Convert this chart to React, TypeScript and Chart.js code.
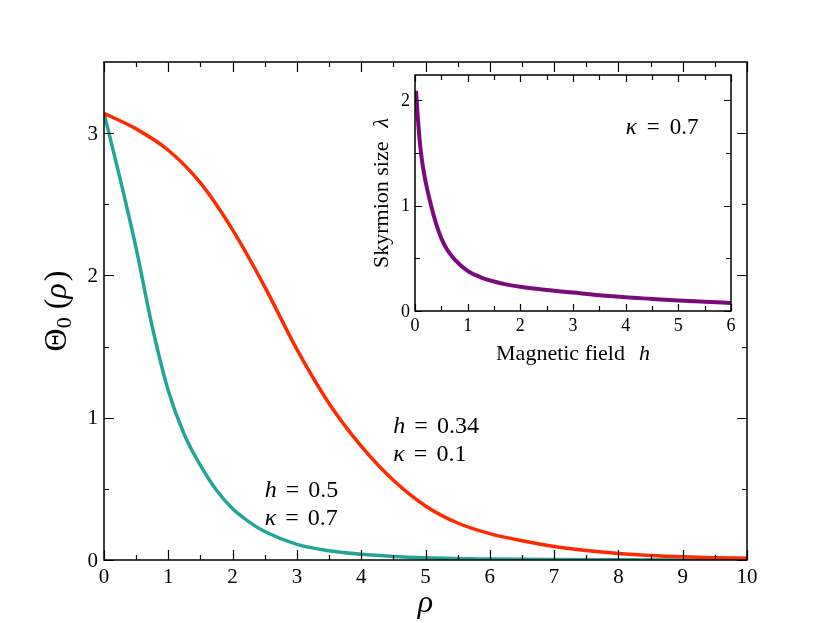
import React, { useEffect, useRef } from "react";
import { Chart, registerables } from "chart.js";

Chart.register(...registerables);

const FAMILY = '"Liberation Serif"';

// Main panel: Theta_0(rho) profiles
const rhoRed = [0, 0.5, 1, 1.5, 2, 2.5, 3, 3.5, 4, 4.5, 5, 5.5, 6, 6.5, 7, 7.5, 8, 8.5, 9, 9.5, 10];
const thetaRed = [3.14, 3.03, 2.88, 2.65, 2.32, 1.92, 1.48, 1.1, 0.8, 0.56, 0.38, 0.26, 0.185, 0.135, 0.095, 0.066, 0.045, 0.031, 0.022, 0.016, 0.012];

const rhoTeal = [0, 0.25, 0.5, 0.75, 1, 1.25, 1.5, 1.75, 2, 2.25, 2.5, 3, 3.5, 4, 4.5, 5, 6, 7, 8, 9, 10];
const thetaTeal = [3.14, 2.68, 2.19, 1.64, 1.19, 0.88, 0.665, 0.49, 0.36, 0.27, 0.2, 0.11, 0.065, 0.04, 0.025, 0.016, 0.007, 0.003, 0.0015, 0.0008, 0.0004];

const mainXMajor = [0, 1, 2, 3, 4, 5, 6, 7, 8, 9, 10];
const mainXMinor = [0.5, 1.5, 2.5, 3.5, 4.5, 5.5, 6.5, 7.5, 8.5, 9.5];
const mainYMajor = [0, 1, 2, 3];
const mainYMinor = [0.5, 1.5, 2.5];

// Inset: skyrmion size vs magnetic field
const fieldH = [0.02, 0.05, 0.1, 0.15, 0.2, 0.3, 0.4, 0.5, 0.6, 0.75, 1, 1.25, 1.5, 1.75, 2, 2.5, 3, 3.5, 4, 4.5, 5, 5.5, 6];
const sizeLambda = [2.09, 1.86, 1.56, 1.37, 1.23, 1.01, 0.83, 0.69, 0.59, 0.49, 0.38, 0.32, 0.28, 0.25, 0.23, 0.2, 0.175, 0.15, 0.13, 0.115, 0.1, 0.088, 0.077];

const insetXMajor = [0, 1, 2, 3, 4, 5, 6];
const insetXMinor = [0.5, 1.5, 2.5, 3.5, 4.5, 5.5];
const insetYMajor = [0, 1, 2];
const insetYMinor = [0.5, 1.5];

type Part = { t: string; italic?: boolean; size?: number; dy?: number; gap?: number };

function drawRich(ctx: CanvasRenderingContext2D, parts: Part[], x: number, y: number, size: number, align: "left" | "center") {
  const fontOf = (p: Part) => `${p.italic ? "italic " : ""}${p.size ?? size}px ${FAMILY}`;
  let w = 0;
  parts.forEach((p) => {
    ctx.font = fontOf(p);
    w += ctx.measureText(p.t).width + (p.gap ?? 0);
  });
  let cx = align === "center" ? x - w / 2 : x;
  ctx.textAlign = "left";
  ctx.textBaseline = "alphabetic";
  parts.forEach((p) => {
    ctx.font = fontOf(p);
    ctx.fillText(p.t, cx, y + (p.dy ?? 0));
    cx += ctx.measureText(p.t).width + (p.gap ?? 0);
  });
}

type FrameCfg = {
  xMajor: number[];
  xMinor: number[];
  yMajor: number[];
  yMinor: number[];
  majorLen: number;
  minorLen: number;
  frameWidth: number;
  tickFont: number;
  xLabelDy: number;
  yLabelDx: number;
  extra: (ctx: CanvasRenderingContext2D, chart: any) => void;
};

function makeFramePlugin(cfg: FrameCfg) {
  return {
    id: "frameTicks",
    afterDatasetsDraw(chart: any) {
      const { ctx, chartArea: a, scales } = chart;
      const xs = scales.x;
      const ys = scales.y;
      ctx.save();
      ctx.strokeStyle = "#000";
      ctx.fillStyle = "#000";
      ctx.lineWidth = cfg.frameWidth;
      ctx.strokeRect(a.left, a.top, a.right - a.left, a.bottom - a.top);
      ctx.lineWidth = 1.2;
      ctx.beginPath();
      const xt = (v: number, len: number) => {
        const px = Math.round(xs.getPixelForValue(v)) + 0.5;
        ctx.moveTo(px, a.bottom);
        ctx.lineTo(px, a.bottom - len);
        ctx.moveTo(px, a.top);
        ctx.lineTo(px, a.top + len);
      };
      const yt = (v: number, len: number) => {
        const py = Math.round(ys.getPixelForValue(v)) + 0.5;
        ctx.moveTo(a.left, py);
        ctx.lineTo(a.left + len, py);
        ctx.moveTo(a.right, py);
        ctx.lineTo(a.right - len, py);
      };
      cfg.xMajor.forEach((v) => xt(v, cfg.majorLen));
      cfg.xMinor.forEach((v) => xt(v, cfg.minorLen));
      cfg.yMajor.forEach((v) => yt(v, cfg.majorLen));
      cfg.yMinor.forEach((v) => yt(v, cfg.minorLen));
      ctx.stroke();

      ctx.font = `${cfg.tickFont}px ${FAMILY}`;
      ctx.textBaseline = "alphabetic";
      ctx.textAlign = "center";
      cfg.xMajor.forEach((v) => {
        ctx.fillText(String(v), xs.getPixelForValue(v), a.bottom + cfg.xLabelDy);
      });
      ctx.textAlign = "right";
      cfg.yMajor.forEach((v) => {
        ctx.fillText(String(v), a.left - cfg.yLabelDx, ys.getPixelForValue(v) + cfg.tickFont * 0.32);
      });
      cfg.extra(ctx, chart);
      ctx.restore();
    },
  };
}

function hiddenScale(min: number, max: number) {
  return {
    type: "linear" as const,
    min,
    max,
    display: true,
    ticks: { display: false },
    grid: { display: false, drawTicks: false },
    border: { display: false },
    title: { display: false },
  };
}

export default function App() {
  const mainRef = useRef<HTMLCanvasElement>(null);
  const insetRef = useRef<HTMLCanvasElement>(null);

  useEffect(() => {
    if (!mainRef.current || !insetRef.current) return;

    const mainPlugin = makeFramePlugin({
      xMajor: mainXMajor,
      xMinor: mainXMinor,
      yMajor: mainYMajor,
      yMinor: mainYMinor,
      majorLen: 10,
      minorLen: 5,
      frameWidth: 1.5,
      tickFont: 21,
      xLabelDy: 23,
      yLabelDx: 6,
      extra: (ctx, chart) => {
        const a = chart.chartArea;
        ctx.save();
        ctx.translate(66, (a.top + a.bottom) / 2);
        ctx.rotate(-Math.PI / 2);
        drawRich(
          ctx,
          [
            { t: "Θ", size: 32 },
            { t: "0", size: 22, dy: 5, gap: 8 },
            { t: "(", size: 32 },
            { t: "ρ", size: 32, italic: true, gap: 2 },
            { t: ")", size: 32 },
          ],
          0,
          0,
          32,
          "center"
        );
        ctx.restore();
        drawRich(ctx, [{ t: "ρ", italic: true }], (a.left + a.right) / 2, 612, 32, "center");
        const xs = chart.scales.x;
        const ys = chart.scales.y;
        const ann = (lines: Part[][], vx: number, vy: number) => {
          const x = xs.getPixelForValue(vx);
          const y = ys.getPixelForValue(vy);
          lines.forEach((parts, i) => drawRich(ctx, parts, x, y + i * 28, 24, "left"));
        };
        ann(
          [
            [{ t: "h", italic: true, gap: 9 }, { t: "=", gap: 9 }, { t: "0.34" }],
            [{ t: "κ", italic: true, gap: 9 }, { t: "=", gap: 9 }, { t: "0.1" }],
          ],
          4.5,
          0.895
        );
        ann(
          [
            [{ t: "h", italic: true, gap: 9 }, { t: "=", gap: 9 }, { t: "0.5" }],
            [{ t: "κ", italic: true, gap: 9 }, { t: "=", gap: 9 }, { t: "0.7" }],
          ],
          2.5,
          0.44
        );
      },
    });

    const insetPlugin = makeFramePlugin({
      xMajor: insetXMajor,
      xMinor: insetXMinor,
      yMajor: insetYMajor,
      yMinor: insetYMinor,
      majorLen: 7,
      minorLen: 5,
      frameWidth: 1.5,
      tickFont: 18,
      xLabelDy: 20,
      yLabelDx: 5,
      extra: (ctx, chart) => {
        const a = chart.chartArea;
        ctx.save();
        ctx.translate(388, (a.top + a.bottom) / 2);
        ctx.rotate(-Math.PI / 2);
        drawRich(ctx, [{ t: "Skyrmion size", gap: 14 }, { t: "λ", italic: true }], 0, 0, 22, "center");
        ctx.restore();
        drawRich(ctx, [{ t: "Magnetic field", gap: 14 }, { t: "h", italic: true }], (a.left + a.right) / 2, 360, 22, "center");
        const xs = chart.scales.x;
        const ys = chart.scales.y;
        drawRich(
          ctx,
          [{ t: "κ", italic: true, gap: 10 }, { t: "=", gap: 10 }, { t: "0.7" }],
          xs.getPixelForValue(4.0),
          ys.getPixelForValue(1.68),
          23,
          "left"
        );
      },
    });

    const main = new Chart(mainRef.current, {
      type: "line",
      data: {
        datasets: [
          {
            label: "h = 0.34, κ = 0.1",
            data: rhoRed.map((x, i) => ({ x, y: thetaRed[i] })),
            borderColor: "#ff2a00",
            borderWidth: 3.5,
            pointRadius: 0,
            cubicInterpolationMode: "monotone",
            fill: false,
          },
          {
            label: "h = 0.5, κ = 0.7",
            data: rhoTeal.map((x, i) => ({ x, y: thetaTeal[i] })),
            borderColor: "#22a598",
            borderWidth: 3.5,
            pointRadius: 0,
            cubicInterpolationMode: "monotone",
            fill: false,
          },
        ],
      },
      options: {
        responsive: false,
        animation: false,
        devicePixelRatio: 1,
        layout: { padding: { left: 104, right: 83, top: 62, bottom: 63 } },
        plugins: { legend: { display: false }, tooltip: { enabled: false } },
        events: [],
        scales: { x: hiddenScale(0, 10), y: hiddenScale(0, 3.5) },
      },
      plugins: [mainPlugin],
    } as any);

    const inset = new Chart(insetRef.current, {
      type: "line",
      data: {
        datasets: [
          {
            label: "λ(h)",
            data: fieldH.map((x, i) => ({ x, y: sizeLambda[i] })),
            borderColor: "#7b0a7d",
            borderWidth: 4,
            pointRadius: 0,
            cubicInterpolationMode: "monotone",
            fill: false,
          },
        ],
      },
      options: {
        responsive: false,
        animation: false,
        devicePixelRatio: 1,
        layout: { padding: { left: 415, right: 99, top: 75, bottom: 312 } },
        plugins: { legend: { display: false }, tooltip: { enabled: false } },
        events: [],
        scales: { x: hiddenScale(0, 6), y: hiddenScale(0, 2.24) },
      },
      plugins: [insetPlugin],
    } as any);

    return () => {
      main.destroy();
      inset.destroy();
    };
  }, []);

  return (
    <div style={{ position: "absolute", left: 0, top: 0, width: 830, height: 623, background: "#fff" }}>
      <canvas ref={mainRef} width={830} height={623} style={{ position: "absolute", left: 0, top: 0 }} />
      <canvas ref={insetRef} width={830} height={623} style={{ position: "absolute", left: 0, top: 0, pointerEvents: "none" }} />
    </div>
  );
}
